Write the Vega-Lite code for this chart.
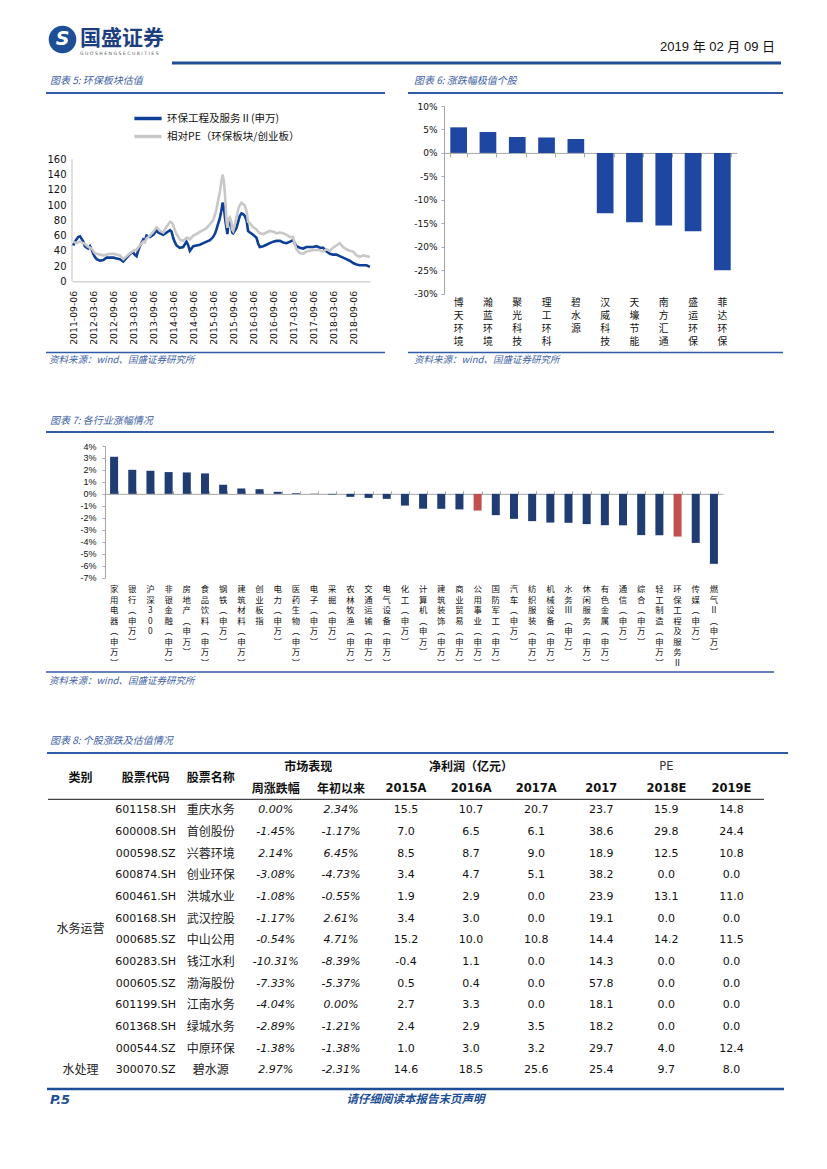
{
"$schema": "https://vega.github.io/schema/vega-lite/v6.json",
"background": "white",
"padding": 0,
"spacing": 0,
"resolve": {"scale": {"color": "independent"}, "legend": {"color": "independent"}},
"config": {"view": {"stroke": null}, "font": "Noto Sans CJK SC", "axis": {"labelColor": "#111", "domainColor": "#A6A6A6", "tickColor": "#A6A6A6", "grid": false}},
"vconcat": [
{"spacing": 0, "hconcat": [
  {"width": 45, "height": 1, "data": {"values": []}, "mark": "rule", "encoding": {}},
  {"width": 35, "height": 58, "data": {"values": [{"t": "S"}]}, "layer": [
    {"mark": {"type": "point", "shape": "circle", "filled": true, "size": 760, "color": "#1D4E96", "opacity": 1},
     "encoding": {"x": {"datum": 0.5, "type": "quantitative", "scale": {"domain": [0, 1]}, "axis": null}, "y": {"datum": 0.68, "type": "quantitative", "scale": {"domain": [0, 1], "reverse": true}, "axis": null}}},
    {"mark": {"type": "text", "font": "DejaVu Sans", "fontWeight": "bold", "fontStyle": "italic", "fontSize": 19, "color": "white"},
     "encoding": {"x": {"datum": 0.5, "type": "quantitative"}, "y": {"datum": 0.68, "type": "quantitative"}, "text": {"field": "t"}}}
  ]},
  {"width": 695, "height": 58, "data": {"values": [{"logo": "国盛证券", "sub": "G U O S H E N G   S E C U R I T I E S", "date": "2019 年 02 月 09 日"}]}, "layer": [
    {"mark": {"type": "text", "align": "left", "fontSize": 21, "fontWeight": "bold", "color": "#1D3F80", "font": "Noto Sans CJK SC"},
     "encoding": {"x": {"datum": 0, "type": "quantitative", "scale": {"domain": [0, 1]}, "axis": null}, "y": {"datum": 0.68, "type": "quantitative", "scale": {"domain": [0, 1], "reverse": true}, "axis": null}, "text": {"field": "logo"}}},
    {"mark": {"type": "text", "align": "left", "fontSize": 4.6, "color": "#555", "font": "DejaVu Sans"},
     "encoding": {"x": {"datum": 0, "type": "quantitative"}, "y": {"datum": 0.93, "type": "quantitative"}, "text": {"field": "sub"}}},
    {"mark": {"type": "text", "align": "right", "fontSize": 13, "color": "#111", "font": "Liberation Sans, Noto Sans CJK SC"},
     "encoding": {"x": {"datum": 1, "type": "quantitative"}, "y": {"datum": 0.81, "type": "quantitative"}, "text": {"field": "date"}}}
  ]}
]},
{"spacing": 0, "hconcat": [
  {"width": 170, "height": 1, "data": {"values": []}, "mark": "rule", "encoding": {}},
  {"width": 609, "height": 10, "data": {"values": [{}]}, "mark": {"type": "rule", "color": "#1D4E96", "strokeWidth": 3},
   "encoding": {"y": {"datum": 0.5, "type": "quantitative", "scale": {"domain": [0, 1], "reverse": true}, "axis": null}}}
]},
{"spacing": 0, "hconcat": [
  {"width": 45, "height": 1, "data": {"values": []}, "mark": "rule", "encoding": {}},
  {"width": 339, "height": 34, "data": {"values": [{"t": "图表 5:  环保板块估值"}]}, "layer": [
    {"mark": {"type": "text", "align": "left", "dx": 4, "font": "Noto Sans CJK SC", "fontSize": 10, "fontStyle": "italic", "color": "#4262A5"},
     "encoding": {"text": {"field": "t"}, "x": {"datum": 0, "type": "quantitative", "scale": {"domain": [0, 1]}, "axis": null}, "y": {"datum": 0.38, "type": "quantitative", "scale": {"domain": [0, 1], "reverse": true}, "axis": null}}},
    {"mark": {"type": "rule", "color": "#2F5CA5", "strokeWidth": 2}, "encoding": {"y": {"datum": 0.735, "type": "quantitative"}}}
  ]},
  {"width": 21, "height": 1, "data": {"values": []}, "mark": "rule", "encoding": {}},
  {"width": 375, "height": 34, "data": {"values": [{"t": "图表 6:  涨跌幅极值个股"}]}, "layer": [
    {"mark": {"type": "text", "align": "left", "dx": 6, "font": "Noto Sans CJK SC", "fontSize": 10, "fontStyle": "italic", "color": "#4262A5"},
     "encoding": {"text": {"field": "t"}, "x": {"datum": 0, "type": "quantitative", "scale": {"domain": [0, 1]}, "axis": null}, "y": {"datum": 0.38, "type": "quantitative", "scale": {"domain": [0, 1], "reverse": true}, "axis": null}}},
    {"mark": {"type": "rule", "color": "#2F5CA5", "strokeWidth": 2}, "encoding": {"y": {"datum": 0.735, "type": "quantitative"}}}
  ]}
]},
{"spacing": 0,
 "resolve": {"scale": {"color": "independent"}, "legend": {"color": "independent"}},
 "hconcat": [
  {"width": 45, "height": 1, "data": {"values": []}, "mark": "rule", "encoding": {}},
  {"width": 298, "height": 175.3,
   "data": {"values": [
{"d":"2011-09-06","b":47,"g":52},{"d":"2011-09-20","b":52,"g":51},{"d":"2011-10-06","b":55,"g":50},{"d":"2011-10-20","b":58,"g":51},{"d":"2011-11-06","b":59,"g":52},{"d":"2011-11-20","b":56,"g":51},{"d":"2011-12-06","b":52,"g":50},{"d":"2011-12-20","b":46,"g":49},{"d":"2012-01-06","b":44,"g":47},{"d":"2012-01-20","b":43,"g":45},{"d":"2012-02-06","b":46,"g":44},{"d":"2012-02-20","b":42,"g":43},{"d":"2012-03-06","b":36,"g":40},{"d":"2012-03-20","b":32,"g":37},{"d":"2012-04-06","b":29,"g":36},{"d":"2012-05-06","b":27,"g":35},{"d":"2012-06-06","b":28,"g":34},{"d":"2012-07-06","b":31,"g":35},{"d":"2012-08-06","b":31,"g":36},{"d":"2012-09-06","b":31,"g":36},{"d":"2012-10-06","b":30,"g":35},{"d":"2012-11-06","b":29,"g":34},{"d":"2012-12-06","b":26,"g":29},{"d":"2013-01-06","b":31,"g":33},{"d":"2013-02-06","b":36,"g":37},{"d":"2013-03-06","b":38,"g":40},{"d":"2013-03-20","b":35,"g":41},{"d":"2013-04-06","b":33,"g":41},{"d":"2013-04-20","b":40,"g":44},{"d":"2013-05-06","b":46,"g":47},{"d":"2013-06-06","b":55,"g":52},{"d":"2013-06-20","b":53,"g":51},{"d":"2013-07-06","b":60,"g":56},{"d":"2013-08-06","b":58,"g":60},{"d":"2013-09-06","b":61,"g":65},{"d":"2013-10-06","b":67,"g":71},{"d":"2013-10-20","b":64,"g":69},{"d":"2013-11-06","b":63,"g":66},{"d":"2013-12-06","b":61,"g":64},{"d":"2014-01-06","b":64,"g":72},{"d":"2014-02-06","b":67,"g":78},{"d":"2014-02-20","b":65,"g":77},{"d":"2014-03-06","b":57,"g":74},{"d":"2014-03-20","b":52,"g":68},{"d":"2014-04-06","b":47,"g":62},{"d":"2014-05-06","b":44,"g":55},{"d":"2014-06-06","b":45,"g":53},{"d":"2014-07-06","b":52,"g":57},{"d":"2014-07-20","b":48,"g":57},{"d":"2014-08-06","b":40,"g":55},{"d":"2014-09-06","b":46,"g":60},{"d":"2014-10-06","b":47,"g":62},{"d":"2014-11-06","b":48,"g":65},{"d":"2014-12-06","b":50,"g":67},{"d":"2015-01-06","b":52,"g":70},{"d":"2015-02-06","b":54,"g":75},{"d":"2015-03-06","b":58,"g":80},{"d":"2015-03-25","b":63,"g":88},{"d":"2015-04-06","b":68,"g":95},{"d":"2015-04-20","b":75,"g":105},{"d":"2015-05-06","b":82,"g":116},{"d":"2015-05-20","b":92,"g":130},{"d":"2015-06-01","b":103,"g":140},{"d":"2015-06-12","b":98,"g":132},{"d":"2015-06-24","b":82,"g":112},{"d":"2015-07-06","b":70,"g":80},{"d":"2015-07-15","b":62,"g":70},{"d":"2015-07-25","b":77,"g":82},{"d":"2015-08-06","b":79,"g":84},{"d":"2015-08-20","b":72,"g":78},{"d":"2015-08-28","b":64,"g":68},{"d":"2015-09-06","b":63,"g":66},{"d":"2015-10-06","b":70,"g":84},{"d":"2015-10-25","b":80,"g":96},{"d":"2015-11-06","b":86,"g":100},{"d":"2015-11-20","b":89,"g":103},{"d":"2015-12-06","b":88,"g":101},{"d":"2015-12-20","b":86,"g":100},{"d":"2016-01-06","b":80,"g":92},{"d":"2016-01-20","b":66,"g":78},{"d":"2016-02-06","b":64,"g":76},{"d":"2016-03-06","b":61,"g":71},{"d":"2016-04-06","b":57,"g":68},{"d":"2016-04-20","b":50,"g":65},{"d":"2016-05-06","b":45,"g":63},{"d":"2016-06-06","b":46,"g":62},{"d":"2016-07-06","b":48,"g":64},{"d":"2016-08-06","b":50,"g":66},{"d":"2016-09-06","b":52,"g":65},{"d":"2016-10-06","b":53,"g":63},{"d":"2016-11-06","b":53,"g":64},{"d":"2016-12-06","b":51,"g":63},{"d":"2017-01-06","b":50,"g":61},{"d":"2017-02-06","b":52,"g":58},{"d":"2017-03-06","b":54,"g":58},{"d":"2017-03-20","b":50,"g":50},{"d":"2017-04-06","b":46,"g":42},{"d":"2017-05-06","b":44,"g":37},{"d":"2017-06-06","b":43,"g":36},{"d":"2017-07-06","b":45,"g":39},{"d":"2017-08-06","b":45,"g":40},{"d":"2017-09-06","b":45,"g":41},{"d":"2017-10-06","b":46,"g":41},{"d":"2017-11-06","b":44,"g":41},{"d":"2017-12-06","b":44,"g":39},{"d":"2018-01-06","b":39,"g":42},{"d":"2018-02-06","b":36,"g":40},{"d":"2018-03-06","b":35,"g":44},{"d":"2018-04-06","b":35,"g":47},{"d":"2018-05-06","b":33,"g":50},{"d":"2018-06-06","b":31,"g":45},{"d":"2018-07-06","b":29,"g":42},{"d":"2018-08-06","b":27,"g":40},{"d":"2018-09-06","b":24,"g":39},{"d":"2018-10-06","b":22,"g":34},{"d":"2018-11-06","b":21,"g":32},{"d":"2018-12-06","b":21,"g":34},{"d":"2019-01-06","b":21,"g":33},{"d":"2019-02-06","b":19,"g":32}
   ]},
   "layer": [
    {"data": {"values": [{}]},
     "mark": {"type": "rule", "color": "#BFBFBF", "strokeWidth": 1},
     "encoding": {
      "x": {"datum": {"year": 2011, "month": 8, "date": 25}, "type": "temporal"},
      "y": {"datum": 0, "type": "quantitative"},
      "y2": {"datum": 160}}},
    {"mark": {"type": "line", "strokeWidth": 2.6},
     "encoding": {
      "x": {"field": "d", "type": "temporal", "scale": {"domain": [{"year": 2011, "month": 8, "date": 25}, {"year": 2019, "month": 2, "date": 7}], "nice": false},
        "axis": {"title": null, "values": [{"year":2011,"month":9,"date":6},{"year":2012,"month":3,"date":6},{"year":2012,"month":9,"date":6},{"year":2013,"month":3,"date":6},{"year":2013,"month":9,"date":6},{"year":2014,"month":3,"date":6},{"year":2014,"month":9,"date":6},{"year":2015,"month":3,"date":6},{"year":2015,"month":9,"date":6},{"year":2016,"month":3,"date":6},{"year":2016,"month":9,"date":6},{"year":2017,"month":3,"date":6},{"year":2017,"month":9,"date":6},{"year":2018,"month":3,"date":6},{"year":2018,"month":9,"date":6}],
          "tickCount": 40, "format": "%Y-%m-%d", "labelAngle": -90, "labelFont": "DejaVu Sans", "labelFontSize": 9.3, "ticks": false, "labelPadding": 9, "labelOverlap": false, "minExtent": 68, "domainColor": "#BFBFBF"}},
      "y": {"field": "b", "type": "quantitative", "scale": {"domain": [0, 229.9], "nice": false, "zero": true},
        "axis": {"title": null, "values": [0, 20, 40, 60, 80, 100, 120, 140, 160], "tickCount": 40, "domain": false, "labelOverlap": false, "ticks": false, "labelPadding": 6, "minExtent": 27, "labelFont": "DejaVu Sans", "labelFontSize": 10}},
      "color": {"datum": "环保工程及服务Ⅱ(申万)", "type": "nominal",
        "scale": {"domain": ["环保工程及服务Ⅱ(申万)", "相对PE（环保板块/创业板）"], "range": ["#0E3E95", "#C8C8C8"]},
        "legend": {"title": null, "orient": "none", "legendX": 63.5, "legendY": 0, "padding": 2, "symbolType": "M-1.6,0H1.6", "symbolSize": 289, "symbolStrokeWidth": 3.5, "labelOffset": 8.5, "rowPadding": 0, "labelFont": "Noto Sans CJK SC", "labelFontSize": 10.5, "labelColor": "#111", "labelLimit": 300}}
     }},
    {"mark": {"type": "line", "strokeWidth": 2.6},
     "encoding": {"x": {"field": "d", "type": "temporal"}, "y": {"field": "g", "type": "quantitative"}, "color": {"datum": "相对PE（环保板块/创业板）", "type": "nominal"}}}
   ]},
  {"width": 36, "height": 1, "data": {"values": []}, "mark": "rule", "encoding": {}},
  {"width": 293, "height": 187.6,
   "data": {"values": [{"n":"博天环境","v":5.45},{"n":"瀚蓝环境","v":4.45},{"n":"聚光科技","v":3.4},{"n":"理工环科","v":3.3},{"n":"碧水源","v":2.97},{"n":"汉威科技","v":-12.85},{"n":"天壕节能","v":-14.8},{"n":"南方汇通","v":-15.5},{"n":"盛运环保","v":-16.7},{"n":"菲达环保","v":-25.0}]},
   "layer": [
    {"mark": {"type": "bar", "color": "#1D47A0"},
     "encoding": {
      "x": {"field": "n", "type": "nominal", "sort": null, "scale": {"paddingInner": 0.43, "paddingOuter": 0.215},
        "axis": {"title": null, "domain": false, "ticks": false, "labelAngle": 0, "labelExpr": "split(datum.label, '')", "labelFont": "Noto Sans CJK SC", "labelFontSize": 9.8, "labelLineHeight": 13, "labelPadding": 4, "labelBaseline": "top", "minExtent": 56}},
      "y": {"field": "v", "type": "quantitative", "scale": {"domain": [-30, 10], "nice": false},
        "axis": {"title": null, "values": [-30, -25, -20, -15, -10, -5, 0, 5, 10], "tickCount": 40, "labelOverlap": false, "labelExpr": "(datum.value < 0 ? '-' : '') + abs(datum.value) + '%'", "tickSize": 3, "labelPadding": 4, "minExtent": 32, "labelFont": "DejaVu Sans", "labelFontSize": 9}}
     }},
    {"mark": {"type": "bar", "opacity": 0},
     "encoding": {
      "x": {"field": "n", "type": "nominal", "sort": null, "axis": {"title": null, "orient": "bottom", "offset": -140.7, "labels": false, "tickBand": "extent", "tickSize": 4, "maxExtent": 0}},
      "y": {"field": "v", "type": "quantitative"}}}
   ],
   "resolve": {"axis": {"x": "independent"}}}
]},
{"spacing": 0, "hconcat": [
  {"width": 45, "height": 1, "data": {"values": []}, "mark": "rule", "encoding": {}},
  {"width": 339, "height": 18, "data": {"values": [{"t": "资料来源：wind、国盛证券研究所"}]}, "layer": [
    {"mark": {"type": "text", "align": "left", "dx": 3, "font": "Noto Sans CJK SC", "fontSize": 9.5, "fontStyle": "italic", "color": "#4262A5"},
     "encoding": {"text": {"field": "t"}, "x": {"datum": 0, "type": "quantitative", "scale": {"domain": [0, 1]}, "axis": null}, "y": {"datum": 0.58, "type": "quantitative", "scale": {"domain": [0, 1], "reverse": true}, "axis": null}}},
    {"mark": {"type": "rule", "color": "#2F5CA5", "strokeWidth": 1.5}, "encoding": {"y": {"datum": 0.14, "type": "quantitative"}}}
  ]},
  {"width": 21, "height": 1, "data": {"values": []}, "mark": "rule", "encoding": {}},
  {"width": 375, "height": 18, "data": {"values": [{"t": "资料来源：wind、国盛证券研究所"}]}, "layer": [
    {"mark": {"type": "text", "align": "left", "dx": 6, "font": "Noto Sans CJK SC", "fontSize": 9.5, "fontStyle": "italic", "color": "#4262A5"},
     "encoding": {"text": {"field": "t"}, "x": {"datum": 0, "type": "quantitative", "scale": {"domain": [0, 1]}, "axis": null}, "y": {"datum": 0.58, "type": "quantitative", "scale": {"domain": [0, 1], "reverse": true}, "axis": null}}},
    {"mark": {"type": "rule", "color": "#2F5CA5", "strokeWidth": 1.5}, "encoding": {"y": {"datum": 0.14, "type": "quantitative"}}}
  ]}
]},
{"spacing": 0, "hconcat": [
  {"width": 45, "height": 1, "data": {"values": []}, "mark": "rule", "encoding": {}},
  {"width": 728, "height": 74, "data": {"values": [{"t": "图表 7:  各行业涨幅情况"}]}, "layer": [
    {"mark": {"type": "text", "align": "left", "dx": 4, "font": "Noto Sans CJK SC", "fontSize": 10, "fontStyle": "italic", "color": "#4262A5"},
     "encoding": {"text": {"field": "t"}, "x": {"datum": 0, "type": "quantitative", "scale": {"domain": [0, 1]}, "axis": null}, "y": {"datum": 0.716, "type": "quantitative", "scale": {"domain": [0, 1], "reverse": true}, "axis": null}}},
    {"mark": {"type": "rule", "color": "#2F5CA5", "strokeWidth": 2}, "encoding": {"y": {"datum": 0.865, "type": "quantitative"}}}
  ]}
]},
{"spacing": 0, "hconcat": [
  {"width": 75, "height": 1, "data": {"values": []}, "mark": "rule", "encoding": {}},
  {"width": 618, "height": 131.6,
   "data": {"values": [
{"n":"家用电器(申万)","v":3.1},{"n":"银行(申万)","v":2.01},{"n":"沪深300","v":1.93},{"n":"非银金融(申万)","v":1.82},{"n":"房地产(申万)","v":1.79},{"n":"食品饮料(申万)","v":1.71},{"n":"钢铁(申万)","v":0.76},{"n":"建筑材料(申万)","v":0.45},{"n":"创业板指","v":0.39},{"n":"电力(申万)","v":0.17},{"n":"医药生物(申万)","v":0.06},{"n":"电子(申万)","v":0.02},{"n":"采掘(申万)","v":-0.05},{"n":"农林牧渔(申万)","v":-0.25},{"n":"交通运输(申万)","v":-0.34},{"n":"电气设备(申万)","v":-0.42},{"n":"化工(申万)","v":-0.98},{"n":"计算机(申万)","v":-1.24},{"n":"建筑装饰(申万)","v":-1.25},{"n":"商业贸易(申万)","v":-1.3},{"n":"公用事业(申万)","v":-1.4},{"n":"国防军工(申万)","v":-1.78},{"n":"汽车(申万)","v":-2.09},{"n":"纺织服装(申万)","v":-2.28},{"n":"机械设备(申万)","v":-2.4},{"n":"水务Ⅲ(申万)","v":-2.42},{"n":"休闲服务(申万)","v":-2.53},{"n":"有色金属(申万)","v":-2.62},{"n":"通信(申万)","v":-2.63},{"n":"综合(申万)","v":-3.45},{"n":"轻工制造(申万)","v":-3.46},{"n":"环保工程及服务Ⅱ(申万)","v":-3.57},{"n":"传媒(申万)","v":-4.1},{"n":"燃气Ⅱ(申万)","v":-5.85}
   ]},
   "layer": [
    {"mark": {"type": "bar"},
     "encoding": {
      "x": {"field": "n", "type": "nominal", "sort": null, "scale": {"paddingInner": 0.56, "paddingOuter": 0.28},
        "axis": {"title": null, "domain": false, "ticks": false, "labelAngle": 0, "labelExpr": "slice(split(replace(replace(datum.label, '(', '︵'), ')', '︶'), ''), 0, 8)", "labelFont": "Noto Sans CJK SC", "labelFontSize": 8.4, "labelLineHeight": 10.5, "labelPadding": 7, "labelBaseline": "top", "minExtent": 92}},
      "y": {"field": "v", "type": "quantitative", "scale": {"domain": [-7, 4], "nice": false},
        "axis": {"title": null, "values": [-7, -6, -5, -4, -3, -2, -1, 0, 1, 2, 3, 4], "tickCount": 40, "labelOverlap": false, "labelExpr": "(datum.value < 0 ? '-' : '') + abs(datum.value) + '%'", "tickSize": 3, "labelPadding": 6, "minExtent": 30, "labelFont": "Liberation Sans", "labelFontSize": 9}},
      "color": {"condition": {"test": "datum.n == '公用事业(申万)' || datum.n == '环保工程及服务Ⅱ(申万)'", "value": "#C0504D"}, "value": "#1F3D73"}
     }},
    {"mark": {"type": "bar", "opacity": 0},
     "encoding": {
      "x": {"field": "n", "type": "nominal", "sort": null, "axis": {"title": null, "orient": "top", "offset": -47.85, "labels": false, "tickBand": "extent", "tickSize": 3, "maxExtent": 0}},
      "y": {"field": "v", "type": "quantitative"}}}
   ],
   "resolve": {"axis": {"x": "independent"}}}
]},
{"spacing": 0, "hconcat": [
  {"width": 45, "height": 1, "data": {"values": []}, "mark": "rule", "encoding": {}},
  {"width": 728, "height": 20, "data": {"values": [{"t": "资料来源：wind、国盛证券研究所"}]}, "layer": [
    {"mark": {"type": "text", "align": "left", "dx": 3, "font": "Noto Sans CJK SC", "fontSize": 9.5, "fontStyle": "italic", "color": "#4262A5"},
     "encoding": {"text": {"field": "t"}, "x": {"datum": 0, "type": "quantitative", "scale": {"domain": [0, 1]}, "axis": null}, "y": {"datum": 0.55, "type": "quantitative", "scale": {"domain": [0, 1], "reverse": true}, "axis": null}}},
    {"mark": {"type": "rule", "color": "#2F5CA5", "strokeWidth": 1.5}, "encoding": {"y": {"datum": 0.1, "type": "quantitative"}}}
  ]}
]},
{"spacing": 0, "hconcat": [
  {"width": 46, "height": 1, "data": {"values": []}, "mark": "rule", "encoding": {}},
  {"width": 741, "height": 66, "data": {"values": [{"t": "图表 8:  个股涨跌及估值情况"}]}, "layer": [
    {"mark": {"type": "text", "align": "left", "dx": 3, "font": "Noto Sans CJK SC", "fontSize": 10, "fontStyle": "italic", "color": "#4262A5"},
     "encoding": {"text": {"field": "t"}, "x": {"datum": 0, "type": "quantitative", "scale": {"domain": [0, 1]}, "axis": null}, "y": {"datum": 0.773, "type": "quantitative", "scale": {"domain": [0, 1], "reverse": true}, "axis": null}}},
    {"mark": {"type": "rule", "color": "#2F5CA5", "strokeWidth": 2}, "encoding": {"y": {"datum": 0.955, "type": "quantitative"}}}
  ]}
]},
{"spacing": 0, "hconcat": [
  {"width": 47, "height": 1, "data": {"values": []}, "mark": "rule", "encoding": {}},
  {"width": 716, "height": 325,
   "data": {"values": [
{"code":"601158.SH","name":"重庆水务","wk":"0.00%","ytd":"2.34%","a15":"15.5","a16":"10.7","a17":"20.7","pe17":"23.7","pe18":"15.9","pe19":"14.8"},
{"code":"600008.SH","name":"首创股份","wk":"-1.45%","ytd":"-1.17%","a15":"7.0","a16":"6.5","a17":"6.1","pe17":"38.6","pe18":"29.8","pe19":"24.4"},
{"code":"000598.SZ","name":"兴蓉环境","wk":"2.14%","ytd":"6.45%","a15":"8.5","a16":"8.7","a17":"9.0","pe17":"18.9","pe18":"12.5","pe19":"10.8"},
{"code":"600874.SH","name":"创业环保","wk":"-3.08%","ytd":"-4.73%","a15":"3.4","a16":"4.7","a17":"5.1","pe17":"38.2","pe18":"0.0","pe19":"0.0"},
{"code":"600461.SH","name":"洪城水业","wk":"-1.08%","ytd":"-0.55%","a15":"1.9","a16":"2.9","a17":"0.0","pe17":"23.9","pe18":"13.1","pe19":"11.0"},
{"code":"600168.SH","name":"武汉控股","wk":"-1.17%","ytd":"2.61%","a15":"3.4","a16":"3.0","a17":"0.0","pe17":"19.1","pe18":"0.0","pe19":"0.0"},
{"code":"000685.SZ","name":"中山公用","wk":"-0.54%","ytd":"4.71%","a15":"15.2","a16":"10.0","a17":"10.8","pe17":"14.4","pe18":"14.2","pe19":"11.5"},
{"code":"600283.SH","name":"钱江水利","wk":"-10.31%","ytd":"-8.39%","a15":"-0.4","a16":"1.1","a17":"0.0","pe17":"14.3","pe18":"0.0","pe19":"0.0"},
{"code":"000605.SZ","name":"渤海股份","wk":"-7.33%","ytd":"-5.37%","a15":"0.5","a16":"0.4","a17":"0.0","pe17":"57.8","pe18":"0.0","pe19":"0.0"},
{"code":"601199.SH","name":"江南水务","wk":"-4.04%","ytd":"0.00%","a15":"2.7","a16":"3.3","a17":"0.0","pe17":"18.1","pe18":"0.0","pe19":"0.0"},
{"code":"601368.SH","name":"绿城水务","wk":"-2.89%","ytd":"-1.21%","a15":"2.4","a16":"2.9","a17":"3.5","pe17":"18.2","pe18":"0.0","pe19":"0.0"},
{"code":"000544.SZ","name":"中原环保","wk":"-1.38%","ytd":"-1.38%","a15":"1.0","a16":"3.0","a17":"3.2","pe17":"29.7","pe18":"4.0","pe19":"12.4"},
{"code":"300070.SZ","name":"碧水源","wk":"2.97%","ytd":"-2.31%","a15":"14.6","a16":"18.5","a17":"25.6","pe17":"25.4","pe18":"9.7","pe19":"8.0"}
   ]},
   "layer": [
    {"mark": {"type": "text", "font": "DejaVu Sans", "fontSize": 11, "color": "#111"},
     "encoding": {"x": {"datum": "股票代码", "type": "nominal", "scale": {"type": "band", "domain": ["类别","股票代码","股票名称","周涨跌幅","年初以来","2015A","2016A","2017A","2017","2018E","2019E"], "paddingInner": 0, "paddingOuter": 0}, "axis": null},
      "y": {"field": "code", "type": "nominal", "scale": {"type": "band", "domain": ["h1","h2","601158.SH","600008.SH","000598.SZ","600874.SH","600461.SH","600168.SH","000685.SZ","600283.SH","000605.SZ","601199.SH","601368.SH","000544.SZ","300070.SZ"], "paddingInner": 0, "paddingOuter": 0}, "axis": null},
      "text": {"field": "code"}}},
    {"mark": {"type": "text", "font": "Noto Sans CJK SC", "fontSize": 12, "color": "#222"},
     "encoding": {"x": {"datum": "股票名称", "type": "nominal"}, "y": {"field": "code", "type": "nominal"}, "text": {"field": "name"}}},
    {"mark": {"type": "text", "font": "DejaVu Sans", "fontSize": 11, "fontStyle": "italic", "color": "#111"},
     "encoding": {"x": {"datum": "周涨跌幅", "type": "nominal"}, "y": {"field": "code", "type": "nominal"}, "text": {"field": "wk"}}},
    {"mark": {"type": "text", "font": "DejaVu Sans", "fontSize": 11, "fontStyle": "italic", "color": "#111"},
     "encoding": {"x": {"datum": "年初以来", "type": "nominal"}, "y": {"field": "code", "type": "nominal"}, "text": {"field": "ytd"}}},
    {"mark": {"type": "text", "font": "DejaVu Sans", "fontSize": 11, "color": "#111"},
     "encoding": {"x": {"datum": "2015A", "type": "nominal"}, "y": {"field": "code", "type": "nominal"}, "text": {"field": "a15"}}},
    {"mark": {"type": "text", "font": "DejaVu Sans", "fontSize": 11, "color": "#111"},
     "encoding": {"x": {"datum": "2016A", "type": "nominal"}, "y": {"field": "code", "type": "nominal"}, "text": {"field": "a16"}}},
    {"mark": {"type": "text", "font": "DejaVu Sans", "fontSize": 11, "color": "#111"},
     "encoding": {"x": {"datum": "2017A", "type": "nominal"}, "y": {"field": "code", "type": "nominal"}, "text": {"field": "a17"}}},
    {"mark": {"type": "text", "font": "DejaVu Sans", "fontSize": 11, "color": "#111"},
     "encoding": {"x": {"datum": "2017", "type": "nominal"}, "y": {"field": "code", "type": "nominal"}, "text": {"field": "pe17"}}},
    {"mark": {"type": "text", "font": "DejaVu Sans", "fontSize": 11, "color": "#111"},
     "encoding": {"x": {"datum": "2018E", "type": "nominal"}, "y": {"field": "code", "type": "nominal"}, "text": {"field": "pe18"}}},
    {"mark": {"type": "text", "font": "DejaVu Sans", "fontSize": 11, "color": "#111"},
     "encoding": {"x": {"datum": "2019E", "type": "nominal"}, "y": {"field": "code", "type": "nominal"}, "text": {"field": "pe19"}}},
    {"data": {"values": [{"t": "水务运营"}]},
     "mark": {"type": "text", "font": "Noto Sans CJK SC", "fontSize": 12, "color": "#222"},
     "encoding": {"x": {"datum": "类别", "type": "nominal"}, "y": {"datum": "600168.SH", "type": "nominal", "bandPosition": 1}, "text": {"field": "t"}}},
    {"data": {"values": [{"t": "水处理"}]},
     "mark": {"type": "text", "font": "Noto Sans CJK SC", "fontSize": 12, "color": "#222"},
     "encoding": {"x": {"datum": "类别", "type": "nominal"}, "y": {"datum": "300070.SZ", "type": "nominal"}, "text": {"field": "t"}}},
    {"data": {"values": [{"c": "类别"}, {"c": "股票代码"}, {"c": "股票名称"}]},
     "mark": {"type": "text", "font": "Noto Sans CJK SC", "fontSize": 12, "fontWeight": "bold", "color": "#111"},
     "encoding": {"x": {"field": "c", "type": "nominal"}, "y": {"datum": "h1", "type": "nominal", "bandPosition": 1}, "text": {"field": "c"}}},
    {"data": {"values": [{"c": "周涨跌幅", "t": "市场表现"}]},
     "mark": {"type": "text", "font": "Noto Sans CJK SC", "fontSize": 12, "fontWeight": "bold", "color": "#111"},
     "encoding": {"x": {"field": "c", "type": "nominal", "bandPosition": 1}, "y": {"datum": "h1", "type": "nominal"}, "text": {"field": "t"}}},
    {"data": {"values": [{"c": "2016A", "t": "净利润（亿元）"}]},
     "mark": {"type": "text", "font": "Noto Sans CJK SC", "fontSize": 12, "fontWeight": "bold", "color": "#111"},
     "encoding": {"x": {"field": "c", "type": "nominal"}, "y": {"datum": "h1", "type": "nominal"}, "text": {"field": "t"}}},
    {"data": {"values": [{"c": "2018E", "t": "PE"}]},
     "mark": {"type": "text", "font": "DejaVu Sans", "fontSize": 11.5, "color": "#333"},
     "encoding": {"x": {"field": "c", "type": "nominal"}, "y": {"datum": "h1", "type": "nominal"}, "text": {"field": "t"}}},
    {"data": {"values": [{"c": "周涨跌幅"}, {"c": "年初以来"}]},
     "mark": {"type": "text", "font": "Noto Sans CJK SC", "fontSize": 12, "fontWeight": "bold", "color": "#111"},
     "encoding": {"x": {"field": "c", "type": "nominal"}, "y": {"datum": "h2", "type": "nominal"}, "text": {"field": "c"}}},
    {"data": {"values": [{"c": "2015A"}, {"c": "2016A"}, {"c": "2017A"}, {"c": "2017"}, {"c": "2018E"}, {"c": "2019E"}]},
     "mark": {"type": "text", "font": "DejaVu Sans", "fontSize": 11.5, "fontWeight": "bold", "color": "#111"},
     "encoding": {"x": {"field": "c", "type": "nominal"}, "y": {"datum": "h2", "type": "nominal"}, "text": {"field": "c"}}},
    {"data": {"values": [{}]},
     "mark": {"type": "rule", "color": "#444", "strokeWidth": 1.2},
     "encoding": {"y": {"datum": "h2", "type": "nominal", "bandPosition": 1}}}
   ]}
]},
{"spacing": 0, "hconcat": [
  {"width": 45, "height": 1, "data": {"values": []}, "mark": "rule", "encoding": {}},
  {"width": 737, "height": 88, "data": {"values": [{"p": "P.5", "t": "请仔细阅读本报告末页声明"}]}, "layer": [
    {"mark": {"type": "rule", "color": "#1D4E96", "strokeWidth": 2.5},
     "encoding": {"y": {"datum": 0.091, "type": "quantitative", "scale": {"domain": [0, 1], "reverse": true}, "axis": null}}},
    {"mark": {"type": "text", "align": "left", "dx": 3, "font": "DejaVu Sans", "fontSize": 13, "fontWeight": "bold", "fontStyle": "italic", "color": "#1D4E96"},
     "encoding": {"x": {"datum": 0, "type": "quantitative", "scale": {"domain": [0, 1]}, "axis": null}, "y": {"datum": 0.216, "type": "quantitative"}, "text": {"field": "p"}}},
    {"mark": {"type": "text", "font": "Noto Sans CJK SC", "fontSize": 11.5, "fontWeight": "bold", "fontStyle": "italic", "color": "#1D4E96"},
     "encoding": {"x": {"datum": 0.5, "type": "quantitative"}, "y": {"datum": 0.216, "type": "quantitative"}, "text": {"field": "t"}}}
  ]}
]}
]
}
